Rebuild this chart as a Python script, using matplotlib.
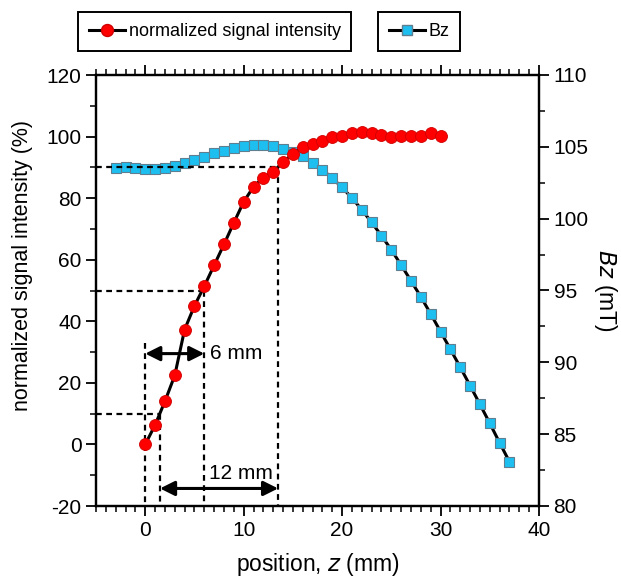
import matplotlib
matplotlib.use("Agg")
import matplotlib.pyplot as plt
from matplotlib.lines import Line2D
from matplotlib.ticker import MultipleLocator

plt.rcParams['font.family'] = ['Liberation Sans', 'DejaVu Sans']
plt.rcParams['axes.unicode_minus'] = False

# --- data ---
z_signal = list(range(0, 31))
signal = [0, 6.3, 14, 22.4, 37.3, 45, 51.4, 58.2, 65, 72, 78.8, 83.7, 86.7, 88.5,
          91.8, 94.3, 96.5, 97.7, 98.5, 99.7, 100.3, 101, 101.6, 101.1, 100.6,
          100, 100.2, 100.3, 100.2, 101, 100.2]

z_bz = list(range(-3, 38))
bz = [103.53, 103.57, 103.50, 103.48, 103.48, 103.50, 103.69, 103.87, 104.06,
      104.27, 104.54, 104.73, 104.89, 105.08, 105.15, 105.15, 105.08, 104.87,
      104.66, 104.36, 103.90, 103.40, 102.83, 102.17, 101.44, 100.62, 99.74,
      98.81, 97.83, 96.77, 95.67, 94.56, 93.37, 92.14, 90.91, 89.66, 88.38,
      87.08, 85.76, 84.40, 83.08]

# guide lines (level %, position mm)
guide_levels = [10, 50, 90]
guide_pos = [1.5, 6, 13.5]
start_pos = 0
start_top = 33
arrow6_y = 29.5
arrow12_y = -14.3

RED = '#ff0000'
RED_EDGE = '#d00000'
BLUE = '#1cbff0'
BLUE_EDGE = '#5f7f90'

fig = plt.figure(figsize=(6.21, 5.84), dpi=100)
ax = fig.add_axes([96/621, 1-506/584, (539-96)/621, (506-75)/584])
ax2 = ax.twinx()
ax.set_zorder(ax2.get_zorder() + 1)
ax.patch.set_visible(False)

# Bz
ax2.plot(z_bz, bz, color='black', lw=2.2, marker='s', markersize=7.4,
         markerfacecolor=BLUE, markeredgecolor=BLUE_EDGE, markeredgewidth=0.8)
# signal
ax.plot(z_signal, signal, color='black', lw=2.2, marker='o', markersize=8.6,
        markerfacecolor=RED, markeredgecolor=RED_EDGE, markeredgewidth=0.6, zorder=3)

xmin, xmax = -5, 40
ymin, ymax = -20, 120
dash = dict(color='black', lw=1.6, ls=(0, (2.6, 2.0)), zorder=2)
for lvl, pos in zip(guide_levels, guide_pos):
    ax.plot([xmin, pos], [lvl, lvl], **dash)
    ax.plot([pos, pos], [lvl, ymin], **dash)
ax.plot([start_pos, start_pos], [start_top, ymin], **dash)

arrowprops = dict(arrowstyle='<|-|>', color='black', lw=2.2,
                  mutation_scale=22, shrinkA=0, shrinkB=0)
ax.annotate('', xy=(start_pos, arrow6_y), xytext=(guide_pos[1], arrow6_y),
            arrowprops=arrowprops, zorder=4)
ax.annotate('', xy=(guide_pos[0], arrow12_y), xytext=(guide_pos[2], arrow12_y),
            arrowprops=arrowprops, zorder=4)
ax.text(6.55, arrow6_y, '6 mm', fontsize=15, va='center', ha='left')
ax.text(6.5, -9.4, '12 mm', fontsize=15, va='center', ha='left')

ax.set_xlim(xmin, xmax)
ax.set_ylim(ymin, ymax)
ax2.set_ylim(80, 110)

ax.xaxis.set_major_locator(MultipleLocator(10))
ax.xaxis.set_minor_locator(MultipleLocator(1))
ax.yaxis.set_major_locator(MultipleLocator(20))
ax.yaxis.set_minor_locator(MultipleLocator(10))
ax2.yaxis.set_major_locator(MultipleLocator(5))
ax2.yaxis.set_minor_locator(MultipleLocator(2.5))

for a in (ax, ax2):
    for s in a.spines.values():
        s.set_linewidth(1.6)
    a.tick_params(which='major', direction='out', length=7.5, width=1.3,
                  labelsize=15, pad=3)
    a.tick_params(which='minor', direction='out', length=4, width=1.1)

ax.xaxis.set_ticks_position('both')
ax.tick_params(axis='x', which='both', top=True, labeltop=False)

ax.set_xlabel('position, $\\it{z}$ (mm)', fontsize=16.5, labelpad=8)
fig.text(23/621, 1-266/584, 'normalized signal intensity (%)', fontsize=15.5,
         rotation=90, ha='center', va='center')
fig.text(606/621, 1-290/584, '$\\it{Bz}$ (mT)', fontsize=16.5,
         rotation=-90, ha='center', va='center')

# legends
h1 = Line2D([], [], color='black', lw=2.2, marker='o', markersize=8.6,
            markerfacecolor=RED, markeredgecolor=RED_EDGE)
h2 = Line2D([], [], color='black', lw=2.2, marker='s', markersize=7.4,
            markerfacecolor=BLUE, markeredgecolor=BLUE_EDGE)
leg_kw = dict(fancybox=False, framealpha=1, edgecolor='black', fontsize=13,
              handlelength=2.0, handletextpad=0.2, borderpad=0.6,
              borderaxespad=0, loc='upper left', bbox_transform=fig.transFigure)
leg1 = ax.legend([h1], ['normalized signal intensity'],
                 bbox_to_anchor=(78/621, 1-12/584), **leg_kw)
leg1.get_frame().set_linewidth(1.4)
ax.add_artist(leg1)
leg2 = ax.legend([h2], ['Bz'], bbox_to_anchor=(378/621, 1-12/584), **leg_kw)
leg2.get_frame().set_linewidth(1.4)

fig.savefig('out.png', dpi=100)
